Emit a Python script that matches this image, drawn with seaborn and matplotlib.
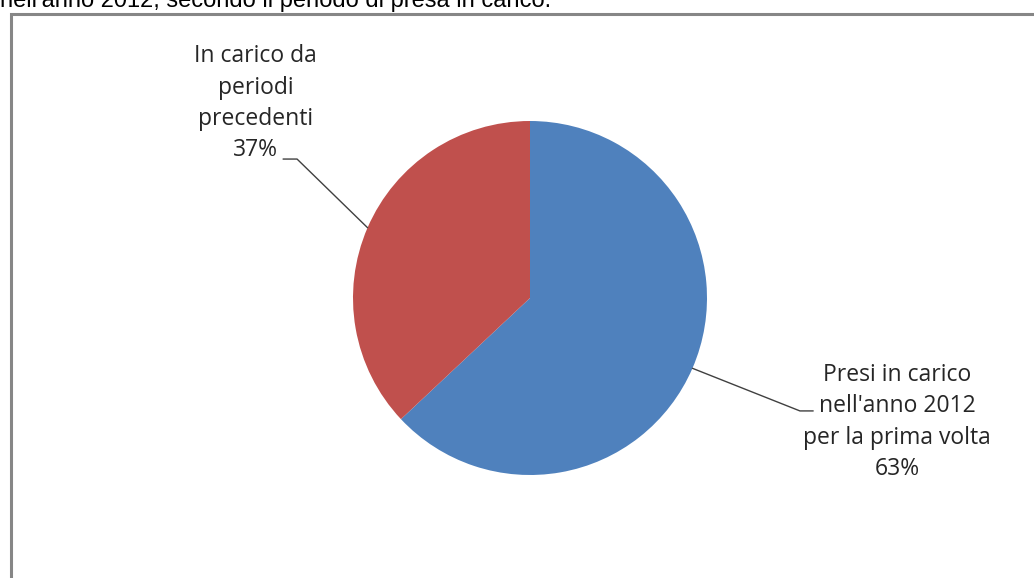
import numpy as np
import seaborn as sns
import matplotlib.pyplot as plt
from matplotlib.patches import Rectangle

sns.set_theme(style="white")
plt.rcParams["font.family"] = ["Open Sans", "DejaVu Sans"]

# data
categories = ["Presi in carico\nnell'anno 2012\nper la prima volta",
              "In carico da\nperiodi\nprecedenti"]
shares = [63, 37]
colors = ["#4F81BD", "#C0504D"]
title = "nell'anno 2012, secondo il periodo di presa in carico."

W, H = 1034, 578
fig = plt.figure(figsize=(W / 100, H / 100), dpi=100)
fig.patch.set_facecolor("white")

# partially cut title line at the very top
fig.text(0.0, 1 - 7 / H, title, ha="left", va="baseline",
         fontsize=17, family="Liberation Sans", color="black")

# chart frame
fig.patches.append(Rectangle((11 / W, -0.05), 1.1, 1 - 14 / H + 0.05,
                             transform=fig.transFigure, fill=False,
                             edgecolor="#868686", linewidth=2.2))

# pie axes: centre (530, 298) px, radius 177 px
r = 177
ax = fig.add_axes([(530 - r) / W, 1 - (298 + r) / H, 2 * r / W, 2 * r / H])
wedges, _ = ax.pie(shares, colors=colors, startangle=90, counterclock=False,
                   wedgeprops=dict(linewidth=0))
ax.set_xlim(-1, 1)
ax.set_ylim(-1, 1)
ax.set_aspect("equal")
ax.axis("off")

# label layout: (elbow point, end of short stub, text centre) in radius units
layout = [((1.525, -0.638), (1.60, -0.638), (2.075, -0.70)),
          ((-1.316, 0.785), (-1.395, 0.785), (-1.55, 1.10))]

for w, cat, val, (elbow, stub, tpos) in zip(wedges, categories, shares, layout):
    ang = np.deg2rad((w.theta1 + w.theta2) / 2)
    edge = (np.cos(ang), np.sin(ang))
    ax.plot([edge[0], elbow[0], stub[0]], [edge[1], elbow[1], stub[1]],
            color="#404040", linewidth=1, clip_on=False)
    ax.text(tpos[0], tpos[1], f"{cat}\n{val}%", ha="center", va="center",
            fontsize=16.5, linespacing=1.4, color="#262626", clip_on=False)

fig.savefig("out.png", dpi=100)
